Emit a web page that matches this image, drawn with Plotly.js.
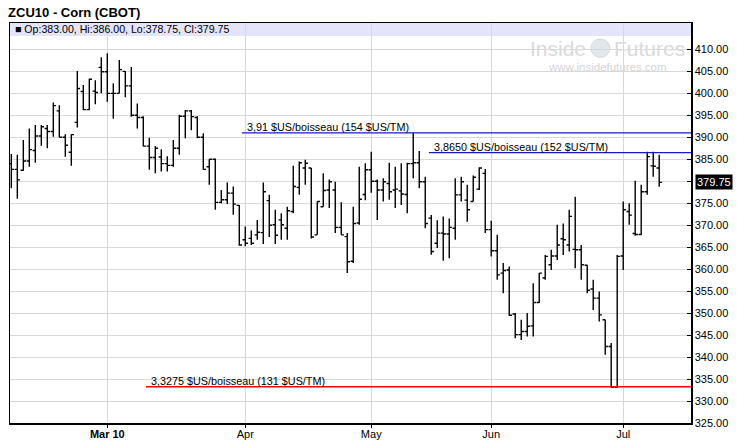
<!DOCTYPE html>
<html>
<head>
<meta charset="utf-8">
<script src="https://cdn.plot.ly/plotly-3.0.1.min.js"></script>
<style>
  html, body { margin: 0; padding: 0; background: #fff; }
  #chart { width: 737px; height: 448px; }
</style>
</head>
<body>
<div id="chart"></div>
<script>
// ---- Data (ZCU10 daily OHLC) ----
const dates = [
  '2010-02-04','2010-02-05','2010-02-08','2010-02-09','2010-02-10','2010-02-11','2010-02-12','2010-02-16',
  '2010-02-17','2010-02-18','2010-02-19','2010-02-22','2010-02-23','2010-02-24','2010-02-25','2010-02-26',
  '2010-03-01','2010-03-02','2010-03-03','2010-03-04','2010-03-05','2010-03-08','2010-03-09','2010-03-10',
  '2010-03-11','2010-03-12','2010-03-15','2010-03-16','2010-03-17','2010-03-18','2010-03-19','2010-03-22',
  '2010-03-23','2010-03-24','2010-03-25','2010-03-26','2010-03-29','2010-03-30','2010-03-31','2010-04-01',
  '2010-04-05','2010-04-06','2010-04-07','2010-04-08','2010-04-09','2010-04-12','2010-04-13','2010-04-14',
  '2010-04-15','2010-04-16','2010-04-19','2010-04-20','2010-04-21','2010-04-22','2010-04-23','2010-04-26',
  '2010-04-27','2010-04-28','2010-04-29','2010-04-30','2010-05-03','2010-05-04','2010-05-05','2010-05-06',
  '2010-05-07','2010-05-10','2010-05-11','2010-05-12','2010-05-13','2010-05-14','2010-05-17','2010-05-18',
  '2010-05-19','2010-05-20','2010-05-21','2010-05-24','2010-05-25','2010-05-26','2010-05-27','2010-05-28',
  '2010-06-01','2010-06-02','2010-06-03','2010-06-04','2010-06-07','2010-06-08','2010-06-09','2010-06-10',
  '2010-06-11','2010-06-14','2010-06-15','2010-06-16','2010-06-17','2010-06-18','2010-06-21','2010-06-22',
  '2010-06-23','2010-06-24','2010-06-25','2010-06-28','2010-06-29','2010-06-30','2010-07-01','2010-07-02',
  '2010-07-06','2010-07-07','2010-07-08','2010-07-09','2010-07-12'
];
const opens = [
  384.0,382.7,382.5,384.6,387.0,390.3,392.0,391.3,
  396.0,390.0,386.6,393.4,400.4,396.3,400.5,405.9,
  404.9,400.0,400.0,405.0,401.7,395.0,394.5,388.0,
  385.4,385.5,384.0,383.6,387.5,394.8,396.0,394.5,
  390.0,383.3,385.0,375.2,375.8,377.3,374.5,366.7,
  367.0,367.8,368.3,375.6,370.1,371.2,369.3,373.1,
  378.6,383.0,383.0,367.8,374.2,378.0,378.0,369.5,
  367.4,361.8,370.5,377.0,382.6,380.0,378.0,379.5,
  378.0,377.8,377.0,384.0,384.2,379.9,371.6,365.9,
  368.2,368.0,369.3,376.9,375.7,375.4,378.2,381.8,
  369.0,364.2,359.1,359.8,349.8,345.1,345.8,347.1,
  352.4,358.0,361.0,363.0,366.9,365.5,364.5,364.4,
  360.9,355.5,353.4,348.5,342.4,333.1,363.0,373.1,
  368.1,367.9,377.6,383.5,383.0
];
const highs = [
  386.2,386.0,389.4,392.0,392.8,392.8,392.8,397.9,
  397.3,390.7,390.7,405.1,401.9,403.4,403.0,408.2,
  409.1,402.3,407.6,405.1,406.0,397.7,394.8,389.9,
  388.0,387.3,385.7,389.4,395.1,396.2,396.2,394.8,
  390.9,385.0,385.2,378.0,379.7,378.8,374.6,369.7,
  368.8,371.2,379.7,376.9,373.5,372.7,374.2,383.5,
  384.5,384.9,383.0,375.4,381.8,380.4,379.9,375.2,
  368.2,374.2,383.3,384.1,386.7,380.4,380.7,384.2,
  383.3,384.1,384.2,391.0,386.9,381.0,372.3,371.1,
  372.0,371.5,380.7,381.0,379.2,381.3,383.2,382.8,
  371.0,367.8,361.4,360.6,350.0,348.5,350.0,356.8,
  359.1,363.2,364.4,370.1,370.4,373.5,376.5,365.5,
  361.0,357.6,354.9,348.5,343.2,363.2,375.4,375.0,
  380.1,379.2,386.7,386.7,386.0
];
const lows = [
  378.4,376.0,382.4,383.3,384.2,388.1,387.5,390.1,
  390.0,385.6,383.5,392.2,396.2,396.2,397.5,400.0,
  398.1,394.2,400.0,399.1,394.7,392.0,387.9,382.6,
  381.8,382.2,382.2,383.3,386.0,389.8,391.6,389.8,
  382.6,379.2,373.5,375.0,374.8,372.4,365.3,365.2,
  365.5,366.7,365.7,367.3,365.7,366.7,366.7,372.7,
  376.9,379.2,367.0,367.8,374.2,373.9,368.2,367.8,
  359.1,361.4,370.1,375.7,377.4,371.2,375.4,375.8,
  373.9,374.6,372.7,380.7,378.4,369.3,363.3,364.8,
  361.9,362.5,366.7,375.4,370.8,375.4,378.0,368.2,
  362.9,357.6,354.5,349.4,344.3,343.9,344.7,344.7,
  352.3,357.6,359.8,362.1,363.2,364.0,360.2,357.6,
  354.5,350.7,348.1,340.5,333.0,333.0,359.8,370.1,
  367.6,367.8,376.9,381.0,378.75
];
const closes = [
  382.7,380.3,384.6,387.2,390.3,392.4,391.3,397.2,
  390.0,388.2,390.6,401.1,396.3,403.2,400.2,404.9,
  400.0,400.0,405.4,401.7,395.0,394.5,388.0,385.4,
  387.5,384.0,383.6,387.5,394.8,396.0,394.7,390.0,
  382.7,385.0,375.2,375.8,377.3,374.8,365.5,365.9,
  365.9,368.4,377.6,370.0,367.7,370.1,373.3,378.8,
  384.2,384.1,367.3,375.4,377.9,379.9,369.5,367.8,
  361.7,370.4,375.9,382.6,380.0,378.0,379.9,377.6,
  378.2,377.1,384.0,384.2,379.9,370.4,364.0,368.2,
  368.0,369.5,376.9,379.9,373.5,380.9,383.0,369.0,
  364.2,358.7,359.7,349.5,345.1,345.8,347.0,352.4,
  359.1,362.9,363.0,365.5,366.7,372.0,364.4,361.0,
  355.2,353.4,349.6,342.4,333.1,362.9,373.5,372.3,
  367.9,377.6,385.6,383.4,379.75
];

// Axis ticks
const monthTickDates = ['2010-03-01','2010-04-01','2010-05-03','2010-06-01','2010-07-01'];
const monthTickText  = ['<b>Mar 10</b>','Apr','May','Jun','Jul'];
const priceTicks = [325,330,335,340,345,350,355,360,365,370,375,380,385,390,395,400,405,410];
const priceTickText = ['325.00','330.00','335.00','340.00','345.00','350.00','355.00','360.00','365.00',
  '370.00','375.00','','385.00','390.00','395.00','400.00','405.00','410.00'];

// Horizontal reference levels and their labels
const levelValues = [391, 386.5, 333.25];
const levelLabels = ['3,91 $US/boisseau (154 $US/TM)','3,8650 $US/boisseau (152 $US/TM)','3,3275 $US/boisseau (131 $US/TM)'];
const levelColors = ['#1a1ac8','#1a1ac8','#ff0000'];
const levelStartIdx = [38.45, 69.6, 22.45];

const lastClose = 379.75;
const headerText = '■ Op:383.00, Hi:386.00, Lo:378.75, Cl:379.75';

const X_MAX = 113.3;

const trace = {
  type: 'ohlc',
  x: dates, open: opens, high: highs, low: lows, close: closes,
  increasing: { line: { color: '#000', width: 1.4 } },
  decreasing: { line: { color: '#000', width: 1.4 } },
  tickwidth: 0.45,
  hoverinfo: 'skip',
  showlegend: false
};

const shapes = [
  // header band
  { type: 'rect', xref: 'paper', yref: 'paper', x0: 0, x1: 1, y0: 0.9675, y1: 1,
    fillcolor: '#e4e4fa', line: { width: 0 }, layer: 'below' },
  // watermark globe
  { type: 'circle', xref: 'paper', yref: 'paper', x0: 0.853, x1: 0.881, y0: 0.914, y1: 0.960,
    fillcolor: '#e2e7ee', line: { color: '#d6dce4', width: 1 }, layer: 'below' }
];
const annotations = [];
levelValues.forEach((v, k) => {
  shapes.push({ type: 'line', xref: 'x', yref: 'y', x0: levelStartIdx[k], x1: X_MAX, y0: v, y1: v,
    line: { color: levelColors[k], width: 1.3 } });
  annotations.push({ xref: 'x', yref: 'y', x: levelStartIdx[k] + 0.45, y: v, xanchor: 'left', yanchor: 'bottom',
    text: levelLabels[k], showarrow: false, yshift: -2,
    font: { family: 'Liberation Sans, Arial, sans-serif', size: 10.8, color: '#000' } });
});
annotations.push(
  { xref: 'paper', yref: 'paper', x: 0.004, y: 0.9838, xanchor: 'left', yanchor: 'middle', showarrow: false,
    text: headerText, font: { family: 'Liberation Sans, Arial, sans-serif', size: 10.6, color: '#000' } },
  { xref: 'paper', yref: 'y', x: 1, y: lastClose, xanchor: 'left', yanchor: 'middle', xshift: 4, showarrow: false,
    text: lastClose.toFixed(2), bgcolor: '#000', borderpad: 1,
    font: { family: 'Liberation Sans, Arial, sans-serif', size: 11, color: '#fff' } },
  { xref: 'paper', yref: 'paper', x: 0.849, y: 0.937, xanchor: 'right', yanchor: 'middle', showarrow: false,
    text: 'Inside', font: { family: 'Liberation Sans Narrow, Arial Narrow, Liberation Sans, sans-serif', size: 21, color: '#dadada' } },
  { xref: 'paper', yref: 'paper', x: 0.884, y: 0.937, xanchor: 'left', yanchor: 'middle', showarrow: false,
    text: 'Futures', font: { family: 'Liberation Sans Narrow, Arial Narrow, Liberation Sans, sans-serif', size: 21, color: '#dadada' } },
  { xref: 'paper', yref: 'paper', x: 0.878, y: 0.889, xanchor: 'center', yanchor: 'middle', showarrow: false,
    text: 'www.insidefutures.com', font: { family: 'Liberation Sans, Arial, sans-serif', size: 11.5, color: '#d4d4d4' } }
);

const layout = {
  width: 737, height: 448,
  margin: { l: 10, r: 46, t: 23, b: 25, pad: 0 },
  paper_bgcolor: '#fff', plot_bgcolor: '#fff',
  title: { text: '<b>ZCU10 - Corn (CBOT)</b>', xref: 'container', yref: 'container',
    x: 0.011, xanchor: 'left', y: 0.973, yanchor: 'middle',
    font: { family: 'Liberation Sans, Arial, sans-serif', size: 13, color: '#000' } },
  xaxis: {
    type: 'category', range: [-0.22, X_MAX],
    tickmode: 'array', tickvals: monthTickDates, ticktext: monthTickText,
    showgrid: true, gridcolor: '#d8d8d8', gridwidth: 1,
    showline: true, linecolor: '#000', linewidth: 1.5, mirror: true,
    ticks: 'outside', ticklen: 3, tickcolor: '#000', ticklabelstandoff: -3,
    tickfont: { family: 'Liberation Sans, Arial, sans-serif', size: 11, color: '#000' },
    rangeslider: { visible: false }, fixedrange: true
  },
  yaxis: {
    side: 'right', range: [325, 416],
    tickmode: 'array', tickvals: priceTicks, ticktext: priceTickText,
    showgrid: true, gridcolor: '#d8d8d8', gridwidth: 1,
    showline: true, linecolor: '#000', linewidth: 1.5, mirror: true,
    ticks: 'inside', ticklen: 4, tickcolor: '#000',
    tickfont: { family: 'Liberation Sans, Arial, sans-serif', size: 11, color: '#000' },
    zeroline: false, fixedrange: true
  },
  shapes: shapes,
  annotations: annotations,
  showlegend: false,
  hovermode: false
};

Plotly.newPlot('chart', [trace], layout, { staticPlot: true, displayModeBar: false });
</script>
</body>
</html>
